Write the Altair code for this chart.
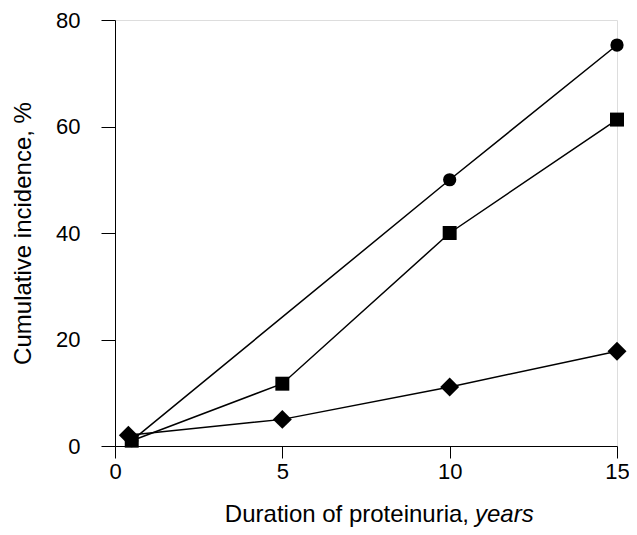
import altair as alt
import pandas as pd

circle_x = [0.5, 10, 15]
circle_y = [1.0, 50, 75.3]
square_x = [0.5, 5, 10, 15]
square_y = [1.0, 11.7, 40, 61.3]
diamond_x = [0.4, 5, 10, 15]
diamond_y = [2.0, 5.0, 11.1, 17.8]

x_title_parts = ["Duration of proteinuria,", "years"]
y_title = "Cumulative incidence, %"

series = [("circle", circle_x, circle_y, 175), ("square", square_x, square_y, 195), ("diamond", diamond_x, diamond_y, 360)]
rows = []
for name, xs, ys, _ in series:
    for i, (xv, yv) in enumerate(zip(xs, ys)):
        rows.append({"series": name, "x": xv, "y": yv, "order": i})
df = pd.DataFrame(rows)

font = "Liberation Sans"
W, H = 502, 426

x = alt.X("x:Q", scale=alt.Scale(domain=[0, 15], nice=False, zero=False),
          axis=alt.Axis(values=[0, 5, 10, 15], title=None,
                        grid=False, tickSize=12, labelPadding=3,
                        labelFontSize=22, labelFont=font, labelColor="black",
                        domainColor="black", tickColor="black", labelFlush=False))
y = alt.Y("y:Q", scale=alt.Scale(domain=[0, 80], nice=False),
          axis=alt.Axis(values=[0, 20, 40, 60, 80], title=y_title,
                        grid=False, tickSize=14, labelPadding=21, titlePadding=20,
                        labelFontSize=22, titleFontSize=24, labelFont=font, titleFont=font,
                        titleFontWeight="normal", labelColor="black", titleColor="black",
                        domainColor="black", tickColor="black"))

lines = alt.Chart(df).mark_line(color="black", strokeWidth=1.5).encode(
    x=x, y=y, detail="series:N", order="order:Q")

point_layers = []
for name, _, _, sz in series:
    point_layers.append(
        alt.Chart(df).transform_filter(alt.datum.series == name)
        .mark_point(filled=True, color="black", opacity=1, shape=name, size=sz)
        .encode(x=x, y=y)
    )

title_df = pd.DataFrame({"t": [x_title_parts[0]]})
title_df2 = pd.DataFrame({"t": [x_title_parts[1]]})
xt1 = alt.Chart(title_df).mark_text(font=font, fontSize=24, align="right", baseline="alphabetic", color="black").encode(
    text="t:N", x=alt.value(354), y=alt.value(H + 76))
xt2 = alt.Chart(title_df2).mark_text(font=font, fontSize=24, fontStyle="italic", align="left", baseline="alphabetic", color="black").encode(
    text="t:N", x=alt.value(360), y=alt.value(H + 76))

chart = alt.layer(lines, *point_layers, xt1, xt2).properties(
    width=W, height=H,
    autosize=alt.AutoSizeParams(type="none"),
    padding={"left": 107, "top": 12, "right": 12, "bottom": 81},
).configure_view(stroke=None).configure(background="white")

chart.save("out.html", embed_options={"renderer": "svg", "actions": False})
